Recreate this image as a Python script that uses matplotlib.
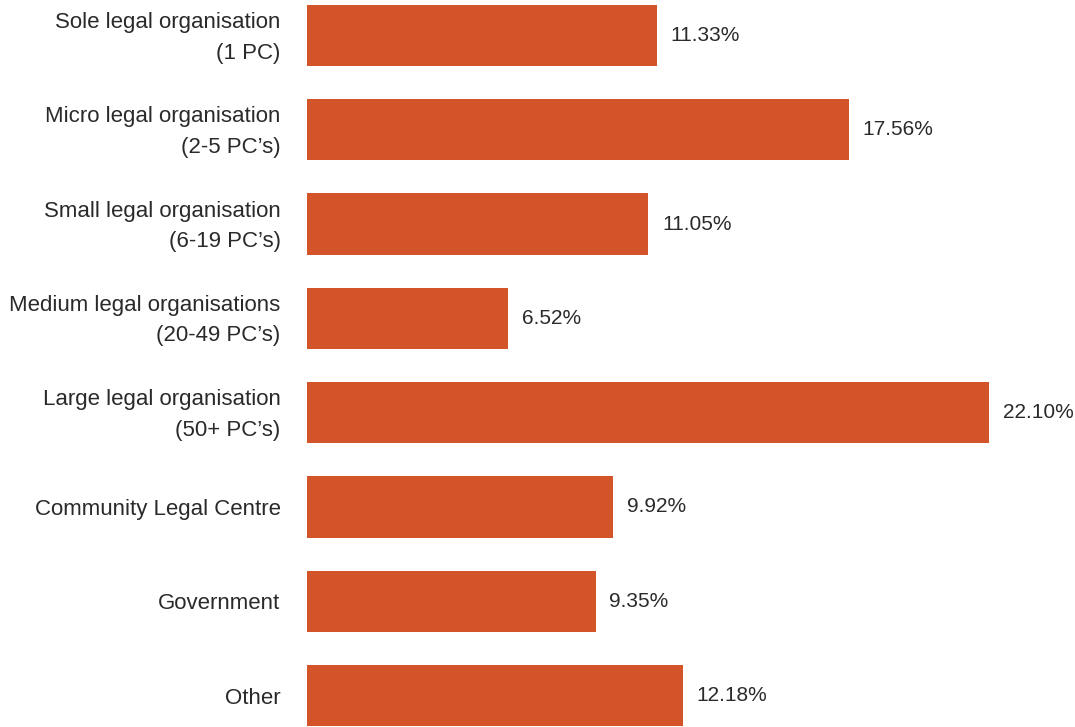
import matplotlib
matplotlib.use("Agg")
import matplotlib.pyplot as plt
import matplotlib.transforms as mtransforms

plt.rcParams['font.family'] = ['Liberation Sans', 'DejaVu Sans']

# data
categories = [
    "Sole legal organisation\n(1 PC)",
    "Micro legal organisation\n(2-5 PC\u2019s)",
    "Small legal organisation\n(6-19 PC\u2019s)",
    "Medium legal organisations\n(20-49 PC\u2019s)",
    "Large legal organisation\n(50+ PC\u2019s)",
    "Community Legal Centre",
    "Government",
    "Other",
]
values = [11.33, 17.56, 11.05, 6.52, 22.10, 9.92, 9.35, 12.18]

bar_color = "#D4542A"

fig = plt.figure(figsize=(10.75, 7.27), dpi=100)
ax = fig.add_axes([307 / 1075, 0, 1 - 307 / 1075, 1])

pos = list(range(len(categories)))
ax.barh(pos, values, height=0.65, color=bar_color)

for p, v in zip(pos, values):
    ax.text(v + 0.45, p, f"{v:.2f}%", va="center", ha="left",
            fontsize=15, color="#2a2a2a")

ax.set_yticks(pos)
ax.set_yticklabels(categories, fontsize=16, color="#2a2a2a", linespacing=1.6)
ax.tick_params(axis="y", length=0, pad=19)

# two-line labels sit a little higher in the original
shift = mtransforms.ScaledTranslation(0, 0.05, fig.dpi_scale_trans)
for lab in ax.get_yticklabels():
    if "\n" in lab.get_text():
        lab.set_transform(lab.get_transform() + shift)

ax.set_xticks([])
ax.set_xlim(0, (1075 - 307) / 30.86)
ax.set_ylim(7.333, -0.376)
for s in ax.spines.values():
    s.set_visible(False)

fig.savefig("out.png", dpi=100)
